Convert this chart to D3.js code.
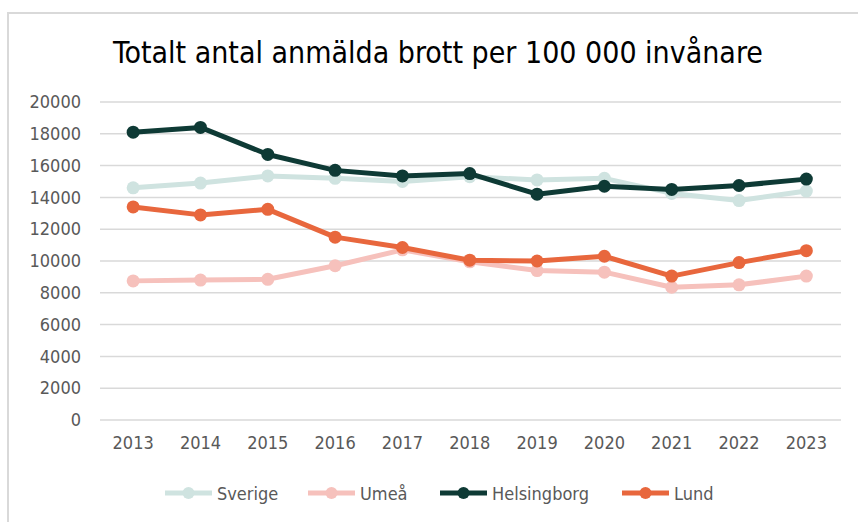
<!DOCTYPE html>
<html lang="sv">
<head>
<meta charset="utf-8">
<title>Totalt antal anmälda brott</title>
<script src="https://d3js.org/d3.v7.min.js"></script>
<style>
  body { margin: 0; background: #fff; }
  svg text { font-family: "Liberation Sans Narrow", "DejaVu Sans Condensed", "Open Sans", sans-serif; }
</style>
</head>
<body>
<div id="chart"></div>
<script>
// data
var years = ["2013", "2014", "2015", "2016", "2017", "2018", "2019", "2020", "2021", "2022", "2023"];
var sverige = [14600, 14900, 15350, 15200, 15000, 15300, 15100, 15200, 14250, 13800, 14400];
var umea = [8750, 8800, 8850, 9700, 10700, 9950, 9400, 9300, 8350, 8500, 9050];
var helsingborg = [18100, 18400, 16700, 15700, 15350, 15500, 14200, 14700, 14500, 14750, 15150];
var lund = [13400, 12900, 13250, 11500, 10850, 10050, 10000, 10300, 9050, 9900, 10650];
var yTicks = [0, 2000, 4000, 6000, 8000, 10000, 12000, 14000, 16000, 18000, 20000];

var series = [
    { name: "Sverige", values: sverige, color: "#cfe3e0" },
    { name: "Umeå", values: umea, color: "#f6c1bc" },
    { name: "Helsingborg", values: helsingborg, color: "#0e3a35" },
    { name: "Lund", values: lund, color: "#e8673d" }
];

var W = 858, H = 522;
var svg = d3.select("#chart").append("svg")
    .attr("width", W).attr("height", H);

// chart border
svg.append("rect")
    .attr("x", 8).attr("y", 13)
    .attr("width", W).attr("height", H)
    .attr("fill", "none").attr("stroke", "#d9d9d9").attr("stroke-width", 2);

svg.append("text")
    .attr("x", 438).attr("y", 63)
    .attr("text-anchor", "middle")
    .attr("font-size", 30)
    .attr("fill", "#000")
    .text("Totalt antal anmälda brott per 100 000 invånare");

var x = d3.scaleBand().domain(years).range([99.5, 840]);
var y = d3.scaleLinear().domain([0, 20000]).range([420, 102]);
var cx = function (i) { return x(years[i]) + x.bandwidth() / 2; };

// gridlines
svg.append("g").selectAll("line")
    .data(yTicks).join("line")
    .attr("x1", 100).attr("x2", 841)
    .attr("y1", function (d) { return y(d); })
    .attr("y2", function (d) { return y(d); })
    .attr("stroke", "#d9d9d9").attr("stroke-width", 1.5);

// y axis labels
var yAxis = svg.append("g").attr("transform", "translate(100,0)")
    .call(d3.axisLeft(y).tickValues(yTicks).tickSize(0).tickPadding(19).tickFormat(d3.format("d")));
yAxis.select(".domain").remove();
yAxis.selectAll("text").attr("font-size", 18).attr("fill", "#595959");

// x axis labels
var xAxis = svg.append("g").attr("transform", "translate(0,420)")
    .call(d3.axisBottom(x).tickSize(0).tickPadding(16));
xAxis.select(".domain").remove();
xAxis.selectAll("text").attr("font-size", 18).attr("fill", "#595959");

var line = d3.line()
    .x(function (d, i) { return cx(i); })
    .y(function (d) { return y(d); });

series.forEach(function (s) {
    var g = svg.append("g");
    g.append("path")
        .datum(s.values)
        .attr("d", line)
        .attr("fill", "none")
        .attr("stroke", s.color)
        .attr("stroke-width", 5)
        .attr("stroke-linejoin", "round");
    g.selectAll("circle")
        .data(s.values).join("circle")
        .attr("cx", function (d, i) { return cx(i); })
        .attr("cy", function (d) { return y(d); })
        .attr("r", 6.5)
        .attr("fill", s.color);
});

// legend
var legendX = [165, 308, 440, 622];
var legend = svg.append("g");
series.forEach(function (s, i) {
    var lg = legend.append("g").attr("transform", "translate(" + legendX[i] + ",493)");
    lg.append("line").attr("x1", 0).attr("x2", 47).attr("y1", 0).attr("y2", 0)
        .attr("stroke", s.color).attr("stroke-width", 5);
    lg.append("circle").attr("cx", 23.5).attr("cy", 0).attr("r", 6).attr("fill", s.color);
    lg.append("text").attr("x", 52).attr("y", 6.5)
        .attr("font-size", 18).attr("fill", "#595959")
        .text(s.name);
});
</script>
</body>
</html>
